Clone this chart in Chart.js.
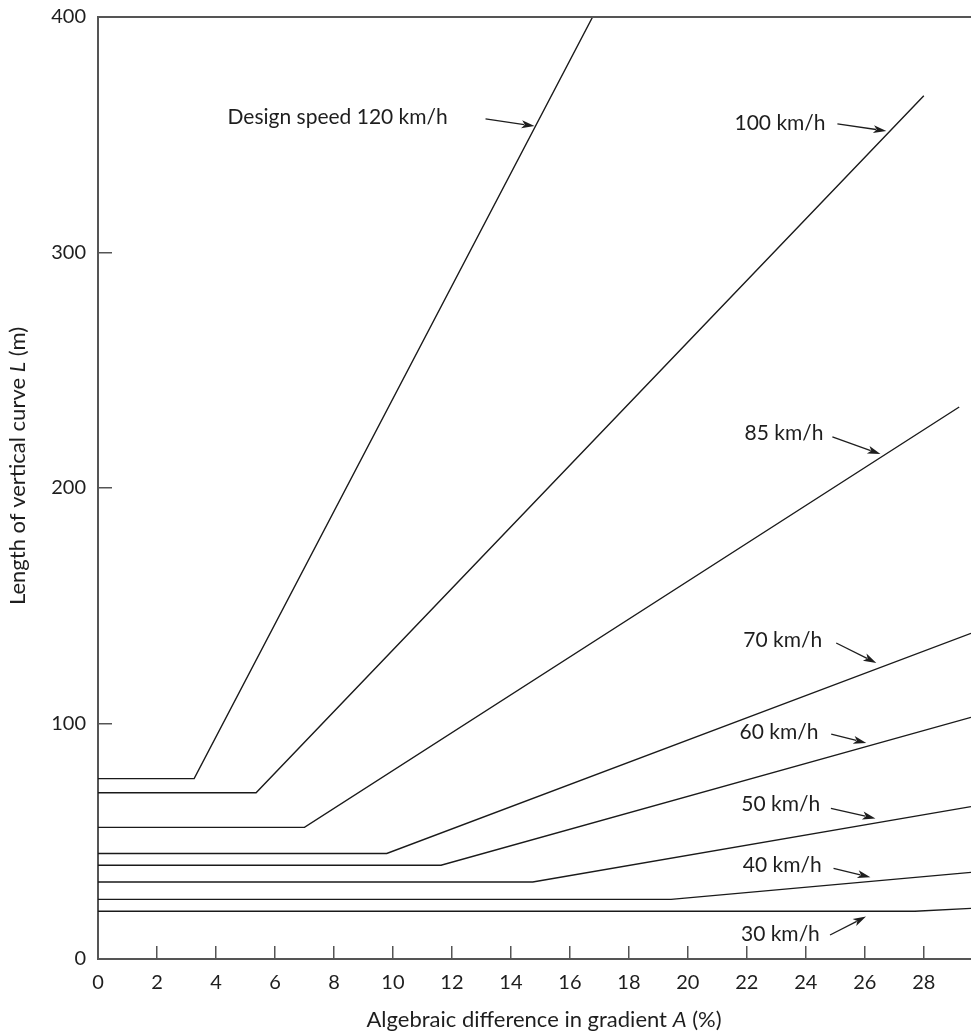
<!DOCTYPE html>
<html>
<head>
<meta charset="utf-8">
<script src="https://cdn.jsdelivr.net/npm/chart.js@4/dist/chart.umd.min.js"></script>
<style>
  html, body { margin: 0; padding: 0; background: #fff; }
  #wrap { width: 971px; height: 1036px; }
</style>
</head>
<body>
<div id="wrap"><canvas id="curveChart" width="971" height="1036"></canvas></div>
<script>
// design speeds (km/h), one line each
const speeds = ['120', '100', '85', '70', '60', '50', '40', '30'];
// minimum length L (m) - flat part of each line, from A = 0
const minLength = [76.6, 70.6, 55.9, 44.8, 39.8, 32.7, 25.3, 20.3];
// gradient A (%) where the line starts to rise
const breakA = [3.26, 5.36, 7.0, 9.79, 11.63, 14.74, 19.43, 27.7];
// last point of each line
const endA = [16.77, 28.0, 29.2, 29.6, 29.6, 29.6, 29.6, 29.6];
const endLength = [400, 366.6, 234.4, 138.3, 102.6, 64.7, 36.8, 21.5];

const xTicks = [0, 2, 4, 6, 8, 10, 12, 14, 16, 18, 20, 22, 24, 26, 28];
const yTicks = [0, 100, 200, 300, 400];

// callouts: text start (A, L), arrow tail and head, in data units
const callouts = [
  { text: 'Design speed 120 km/h', at: [4.39, 357.5], tail: [13.14, 356.7], head: [14.80, 353.7] },
  { text: '100 km/h', at: [21.58, 355.0], tail: [25.07, 354.6], head: [26.73, 351.6] },
  { text: '85 km/h', at: [21.92, 223.4], tail: [24.90, 221.7], head: [26.53, 214.4] },
  { text: '70 km/h', at: [21.88, 135.5], tail: [25.03, 134.2], head: [26.39, 125.7] },
  { text: '60 km/h', at: [21.75, 96.4], tail: [24.86, 95.5], head: [26.05, 91.7] },
  { text: '50 km/h', at: [21.81, 65.8], tail: [24.85, 64.0], head: [26.36, 59.7] },
  { text: '40 km/h', at: [21.86, 39.9], tail: [24.94, 38.5], head: [26.19, 34.7] },
  { text: '30 km/h', at: [21.80, 10.6], tail: [24.82, 10.2], head: [26.04, 18.0] }
];

const FONT = 'Lato, "Open Sans", sans-serif';
const INK = '#1e1e1e';
const AXIS = '#555';

const datasets = speeds.map((s, i) => ({
  label: s + ' km/h',
  data: [
    { x: 0, y: minLength[i] },
    { x: breakA[i], y: minLength[i] },
    { x: endA[i], y: endLength[i] }
  ],
  borderColor: '#1a1a1a',
  borderWidth: 1.4,
  pointRadius: 0,
  tension: 0,
  fill: false
}));

function drawArrow(ctx, x1, y1, x2, y2) {
  const ang = Math.atan2(y2 - y1, x2 - x1);
  const len = 13, half = 4;
  ctx.beginPath();
  ctx.moveTo(x1, y1);
  ctx.lineTo(x2 - len * 0.8 * Math.cos(ang), y2 - len * 0.8 * Math.sin(ang));
  ctx.stroke();
  ctx.beginPath();
  ctx.moveTo(x2, y2);
  ctx.lineTo(x2 - len * Math.cos(ang) + half * Math.sin(ang), y2 - len * Math.sin(ang) - half * Math.cos(ang));
  ctx.lineTo(x2 - len * 0.75 * Math.cos(ang), y2 - len * 0.75 * Math.sin(ang));
  ctx.lineTo(x2 - len * Math.cos(ang) - half * Math.sin(ang), y2 - len * Math.sin(ang) + half * Math.cos(ang));
  ctx.closePath();
  ctx.fill();
}

// draw text made of [string, italic] parts, centred on (cx, cy)
function mixedText(ctx, parts, cx, cy, size) {
  const fontOf = it => (it ? 'italic ' : '') + size + 'px ' + FONT;
  let total = 0;
  parts.forEach(p => { ctx.font = fontOf(p[1]); total += ctx.measureText(p[0]).width; });
  let x = cx - total / 2;
  ctx.textAlign = 'left';
  ctx.textBaseline = 'middle';
  parts.forEach(p => {
    ctx.font = fontOf(p[1]);
    ctx.fillText(p[0], x, cy);
    x += ctx.measureText(p[0]).width;
  });
}

const extras = {
  id: 'extras',
  afterDraw(chart) {
    const { ctx, chartArea: area, scales: { x, y } } = chart;
    ctx.save();
    // top frame line
    ctx.strokeStyle = AXIS;
    ctx.lineWidth = 2;
    ctx.beginPath();
    ctx.moveTo(area.left - 1, area.top);
    ctx.lineTo(area.right, area.top);
    ctx.stroke();

    // callouts
    ctx.fillStyle = INK;
    ctx.strokeStyle = INK;
    ctx.lineWidth = 1.3;
    ctx.font = '21px ' + FONT;
    ctx.textAlign = 'left';
    ctx.textBaseline = 'middle';
    callouts.forEach(c => {
      ctx.fillText(c.text, x.getPixelForValue(c.at[0]), y.getPixelForValue(c.at[1]));
      drawArrow(ctx,
        x.getPixelForValue(c.tail[0]), y.getPixelForValue(c.tail[1]),
        x.getPixelForValue(c.head[0]), y.getPixelForValue(c.head[1]));
    });

    // axis titles
    mixedText(ctx, [['Algebraic difference in gradient ', false], ['A', true], [' (%)', false]], 544, 1020, 22);
    ctx.translate(18, 466);
    ctx.rotate(-Math.PI / 2);
    mixedText(ctx, [['Length of vertical curve ', false], ['L', true], [' (m)', false]], 0, 0, 22);
    ctx.restore();
  }
};

new Chart(document.getElementById('curveChart'), {
  type: 'line',
  data: { datasets: datasets },
  options: {
    responsive: false,
    animation: false,
    devicePixelRatio: 1,
    layout: { padding: { top: 17, right: 0, left: 0, bottom: 0 } },
    plugins: { legend: { display: false }, tooltip: { enabled: false } },
    scales: {
      x: {
        type: 'linear',
        min: 0,
        max: 29.6,
        afterBuildTicks: s => { s.ticks = xTicks.map(v => ({ value: v })); },
        afterFit: s => { s.height = 77; s.paddingLeft = 0; s.paddingRight = 0; },
        ticks: { padding: 25, color: INK, font: { family: FONT, size: 20 } },
        grid: { drawOnChartArea: false, tickLength: -13, color: AXIS, lineWidth: 1.5 },
        border: { color: AXIS, width: 2 }
      },
      y: {
        type: 'linear',
        min: 0,
        max: 400,
        afterBuildTicks: s => { s.ticks = yTicks.map(v => ({ value: v })); },
        afterFit: s => { s.width = 98; s.paddingTop = 0; s.paddingBottom = 0; },
        ticks: { padding: 26, color: INK, font: { family: FONT, size: 20 } },
        grid: { drawOnChartArea: false, tickLength: -14, color: AXIS, lineWidth: 1.5 },
        border: { color: AXIS, width: 2 }
      }
    }
  },
  plugins: [extras]
});
</script>
</body>
</html>
